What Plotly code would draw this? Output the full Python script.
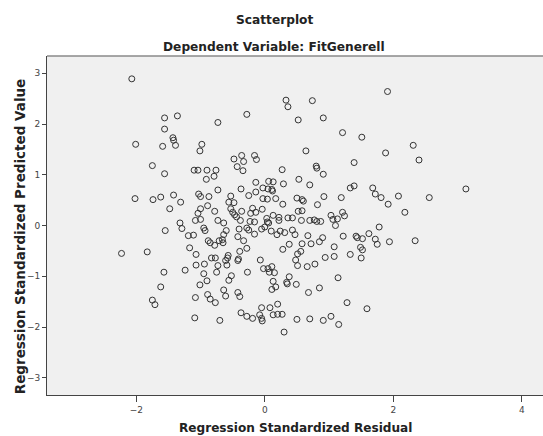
import plotly.graph_objects as go

# Regression standardized residual (x) and standardized predicted value (y)
residual = [
    -2.07, -1.56, -1.36, -1.56, -1.43, -1.42, -2.01, -1.59, -1.39, -0.98,
    -1.01, -0.73, -1.75, -1.56, -1.10, -1.04, -0.90, -0.76, -0.91, -0.79,
    -0.73, -2.02, -1.74, -1.62, -1.42, -1.31, -1.48, -1.03, -1.00, -0.87,
    -0.89, -1.00, -0.78, -1.04, -1.08, -1.00, -0.73, -1.32,
    -1.29, -1.55, -0.95, -0.93, -1.19, -1.11, -0.88, -0.85, -0.78, -0.71,
    -2.23, -1.83, -1.17, -1.07, -0.83, -0.77, -1.07, -0.94, -1.24, -1.57,
    -0.73, -0.75, -0.95, -0.90, -1.01, -1.62, -1.75, -1.71, -1.08, -0.89,
    -0.85, -0.77, -1.09, -0.70,
    -0.28, 0.33, 0.36, 0.74, 0.52, 0.91, 1.21, 1.51, 0.64, -0.48,
    -0.36, -0.33, -0.43, -0.34, -0.16, -0.13, 1.39, 0.27, 0.80, 0.81,
    0.91, -0.14, 0.06, 0.13, 0.29, 0.53, 0.70, -0.03, 0.05, 0.11,
    0.12, -0.14, -0.37, -0.25, -0.03, 0.04, 0.17, -0.53, -0.56, -0.48,
    0.28, 0.50, 0.58, 0.60, 0.92, 1.19, 0.82, 1.33, 1.39, -0.53,
    -0.50, -0.47, -0.44, -0.36, -0.19, -0.22, -0.14, -0.04, -0.38, -0.23,
    -0.16, 0.03, 0.04, 0.13, 0.22, 0.22, 0.36, 0.43, 0.52, 0.58,
    0.57, 0.70, 0.77, 0.81, 0.87, 1.03, 1.06, 1.13, 1.21, 1.24,
    -0.64, 1.10,
    -0.60, -0.64, -0.66, -0.65, -0.40, -0.42, -0.33, -0.28, -0.25, -0.16,
    -0.05, 0.00, 0.06, 0.10, 0.19, 0.24, 0.31, 0.43, 0.47, 0.67,
    0.58, 0.72, 0.85, 0.90, 0.38, 0.28, 1.22, 1.42, 1.44, 1.52,
    1.49, 1.52, 1.50, 1.08, 1.08, 0.94, 1.33, 0.51, 0.56, 0.48,
    0.51, 0.66, 0.78, 1.14, 0.85, 0.68, 1.28, 1.59, 0.38, 0.34,
    0.35, 0.49, 0.13, 0.17, 0.11, -0.07, -0.02, 0.05, 0.11, 0.07,
    0.15, -0.27, -0.28, -0.39, -0.41, -0.42, -0.57, -0.58, -0.61, -0.59,
    -0.52, -0.56, -0.64, -0.61, -0.42, -0.39, -0.37, -0.28, -0.19, -0.08,
    -0.05, -0.05, -0.04, 0.08, 0.20, 0.13, 0.20, 0.27, 0.30, 0.50,
    0.70, 0.91, 1.03, 1.15,
    1.91, 2.31, 1.88, 2.40, 1.68, 1.72, 1.81, 2.08, 1.92, 2.56,
    3.13, 2.18,
    1.78, 1.62, 1.72, 1.75, 1.94, 2.34,
]

predicted = [
    2.89, 2.12, 2.16, 1.90, 1.73, 1.68, 1.60, 1.56, 1.58, 1.60,
    1.47, 2.03, 1.18, 1.02, 1.09, 1.09, 1.09, 1.09, 0.91, 0.97,
    0.70, 0.53, 0.51, 0.56, 0.60, 0.46, 0.33, 0.62, 0.57, 0.57,
    0.39, 0.33, 0.28, 0.24, 0.10, 0.12, 0.10, 0.05,
    -0.06, -0.10, -0.05, -0.10, -0.20, -0.19, -0.30, -0.34, -0.39, -0.30,
    -0.55, -0.52, -0.44, -0.57, -0.64, -0.64, -0.78, -0.76, -0.88, -0.92,
    -0.79, -0.92, -0.95, -1.09, -1.17, -1.21, -1.47, -1.56, -1.42, -1.36,
    -1.45, -1.52, -1.82, -1.87,
    2.19, 2.47, 2.34, 2.46, 2.08, 2.12, 1.83, 1.74, 1.47, 1.31,
    1.38, 1.26, 1.16, 1.08, 1.38, 1.30, 1.24, 1.10, 1.17, 1.13,
    1.01, 0.85, 0.87, 0.86, 0.82, 0.91, 0.80, 0.74, 0.72, 0.71,
    0.68, 0.66, 0.72, 0.59, 0.53, 0.52, 0.53, 0.58, 0.46, 0.45,
    0.42, 0.54, 0.51, 0.48, 0.57, 0.55, 0.41, 0.74, 0.78, 0.33,
    0.26, 0.21, 0.17, 0.28, 0.34, 0.24, 0.26, 0.32, 0.10, 0.08,
    0.07, 0.14, 0.07, 0.20, 0.16, 0.10, 0.15, 0.15, 0.28, 0.29,
    0.10, 0.10, 0.11, 0.08, 0.08, 0.20, 0.12, 0.13, 0.26, 0.19,
    0.05, 0.00,
    -0.10, -0.18, -0.28, -0.34, -0.07, -0.22, -0.30, -0.05, -0.09, -0.17,
    -0.07, -0.03, 0.05, -0.11, -0.18, -0.11, -0.14, -0.09, -0.18, -0.20,
    -0.36, -0.36, -0.32, -0.24, -0.37, -0.47, -0.21, -0.21, -0.24, -0.26,
    -0.43, -0.48, -0.64, -0.42, -0.61, -0.63, -0.57, -0.56, -0.51, -0.68,
    -0.79, -0.81, -0.76, -1.03, -1.23, -1.32, -1.52, -1.64, -1.01, -1.12,
    -1.15, -1.16, -1.10, -1.21, -1.26, -0.68, -0.85, -0.85, -0.81, -0.92,
    -0.93, -0.92, -0.45, -0.51, -0.66, -0.69, -0.59, -0.64, -0.69, -0.78,
    -0.99, -1.08, -1.27, -1.39, -1.32, -1.40, -1.72, -1.79, -1.83, -1.76,
    -1.62, -1.83, -1.88, -1.62, -1.55, -1.76, -1.75, -1.75, -2.10, -1.85,
    -1.84, -1.87, -1.79, -1.95,
    2.64, 1.58, 1.43, 1.29, 0.74, 0.62, 0.55, 0.58, 0.42, 0.55,
    0.72, 0.26,
    -0.03, -0.16, -0.27, -0.37, -0.32, -0.30,
]

x_ticks = [-2, 0, 2, 4]
y_ticks = [-3, -2, -1, 0, 1, 2, 3]

title_text = "Scatterplot"
subtitle_text = "Dependent Variable: FitGenerell"
x_title = "Regression Standardized Residual"
y_title = "Regression Standardized Predicted Value"

FONT = "DejaVu Sans"

fig = go.Figure()
fig.add_trace(go.Scatter(
    x=residual, y=predicted, mode="markers",
    marker=dict(symbol="circle-open", size=6, color="#333333",
                line=dict(width=1, color="#333333")),
    hoverinfo="x+y", showlegend=False,
))

axis_common = dict(
    showgrid=False, zeroline=False, showline=True, linecolor="#444444",
    linewidth=1, ticks="outside", tickwidth=1, tickcolor="#444444",
    tickfont=dict(family=FONT, size=9, color="#444444"),
)

fig.update_xaxes(range=[-3.39, 4.33], tickvals=x_ticks,
                 ticktext=[str(v).replace("-", "\u2212") for v in x_ticks],
                 ticklen=6, **axis_common)
fig.update_yaxes(range=[-3.34, 3.34], tickvals=y_ticks,
                 ticktext=[str(v).replace("-", "\u2212") for v in y_ticks],
                 ticklen=4, **axis_common)

fig.add_shape(type="line", xref="paper", yref="paper", x0=0, x1=1, y0=1, y1=1,
              line=dict(color="#8a8a8a", width=1.5))

title_font = dict(family=FONT, size=12.2, color="#222222")
fig.add_annotation(text="<b>%s</b>" % title_text, xref="paper", yref="paper",
                   x=0.458, y=1.105, showarrow=False, font=title_font,
                   xanchor="center", yanchor="middle")
fig.add_annotation(text="<b>%s</b>" % subtitle_text, xref="paper", yref="paper",
                   x=0.458, y=1.026, showarrow=False, font=title_font,
                   xanchor="center", yanchor="middle")
fig.add_annotation(text="<b>%s</b>" % x_title, xref="paper", yref="paper",
                   x=0.502, y=-0.096, showarrow=False,
                   font=dict(family=FONT, size=12.1, color="#222222"),
                   xanchor="center", yanchor="middle")
fig.add_annotation(text="<b>%s</b>" % y_title, xref="paper", yref="paper",
                   x=-0.054, y=0.469, showarrow=False, textangle=-90,
                   font=dict(family=FONT, size=13.5, color="#222222"),
                   xanchor="center", yanchor="middle")

fig.update_layout(
    width=543, height=436,
    margin=dict(l=47, r=0, t=56, b=41),
    paper_bgcolor="white", plot_bgcolor="#F0F0F0",
    font=dict(family=FONT),
)

fig.write_html("out.html",
               config={"displayModeBar": False},
               post_script="document.body.style.margin='0';"
                           "document.body.style.overflow='hidden';")
